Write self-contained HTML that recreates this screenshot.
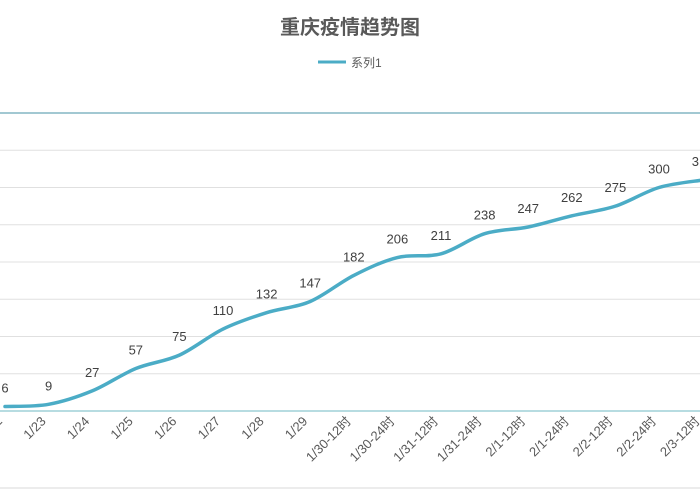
<!DOCTYPE html>
<html><head><meta charset="utf-8"><style>
body{margin:0;background:#fff;}
svg{display:block;font-family:"Liberation Sans","Noto Sans CJK SC",sans-serif;}
</style></head><body>
<svg width="700" height="500" viewBox="0 0 700 500">
<text x="350" y="34" text-anchor="middle" font-size="20" font-weight="bold" fill="#595959">重庆疫情趋势图</text>
<g>
<line x1="318" y1="62" x2="346" y2="62" stroke="#4bacc6" stroke-width="3"/>
<text x="351" y="67" font-size="12" fill="#595959">系列1</text>
</g>
<line x1="0" y1="488" x2="700" y2="488" stroke="#d9d9d9"/>
<g id="grid"></g>
<g id="xlabels"></g>
<path id="series" fill="none" stroke="#4bacc6" stroke-width="3.5" stroke-linecap="round"/>
<g id="vlabels"></g>
</svg>
<script>
const categories=["1/22","1/23","1/24","1/25","1/26","1/27","1/28","1/29","1/30-12时","1/30-24时","1/31-12时","1/31-24时","2/1-12时","2/1-24时","2/2-12时","2/2-24时","2/3-12时"];
const values=[6,9,27,57,75,110,132,147,182,206,211,238,247,262,275,300,310];
const yTicks=[0,50,100,150,200,250,300,350,400];
const NS="http://www.w3.org/2000/svg";
const y0=411, yTop=113, yMax=400;
function yScale(v){return y0-(v/yMax)*(y0-yTop);}
function xScale(i){return 5+43.6*i;}
const grid=document.getElementById('grid');
yTicks.forEach(t=>{
 const l=document.createElementNS(NS,'line');
 
 
 l.setAttribute('x1',0);l.setAttribute('x2',700);
 l.setAttribute('y1',yScale(t));l.setAttribute('y2',yScale(t));
 l.setAttribute('stroke',t===0?'#8cc6cf':(t===yMax?'#6aa7b8':'#e0e0e0'));
 l.setAttribute('stroke-width',t===0||t===yMax?1.2:1);
 grid.appendChild(l);
});
const xl=document.getElementById('xlabels');
categories.forEach((c,i)=>{
 const x=xScale(i)-2, y=422;
 const t=document.createElementNS(NS,'text');
 
 
 t.setAttribute('x',x);t.setAttribute('y',y);
 t.setAttribute('text-anchor','end');
 t.setAttribute('font-size','13');
 t.setAttribute('fill','#595959');
 t.setAttribute('transform','rotate(-45 '+x+' '+y+')');
 t.textContent=c;xl.appendChild(t);
});
const pts=values.map((v,i)=>[xScale(i),yScale(v)]);
let d='M'+pts[0][0]+','+pts[0][1];
for(let i=0;i<pts.length-1;i++){
 const p0=pts[i-1]||pts[i],p1=pts[i],p2=pts[i+1],p3=pts[i+2]||p2;
 const k=0.5/3*1.0;
 const c1=[p1[0]+(p2[0]-p0[0])*k,p1[1]+(p2[1]-p0[1])*k];
 const c2=[p2[0]-(p3[0]-p1[0])*k,p2[1]-(p3[1]-p1[1])*k];
 d+=' C'+c1[0]+','+c1[1]+' '+c2[0]+','+c2[1]+' '+p2[0]+','+p2[1];
}
document.getElementById('series').setAttribute('d',d);
const vl=document.getElementById('vlabels');
values.forEach((v,i)=>{
 const t=document.createElementNS(NS,'text');
 
 
 t.setAttribute('x',xScale(i));t.setAttribute('y',yScale(v)-14);
 t.setAttribute('text-anchor','middle');
 t.setAttribute('font-size','13');
 t.setAttribute('fill','#404040');
 t.textContent=v;vl.appendChild(t);
});
</script>
</body></html>
